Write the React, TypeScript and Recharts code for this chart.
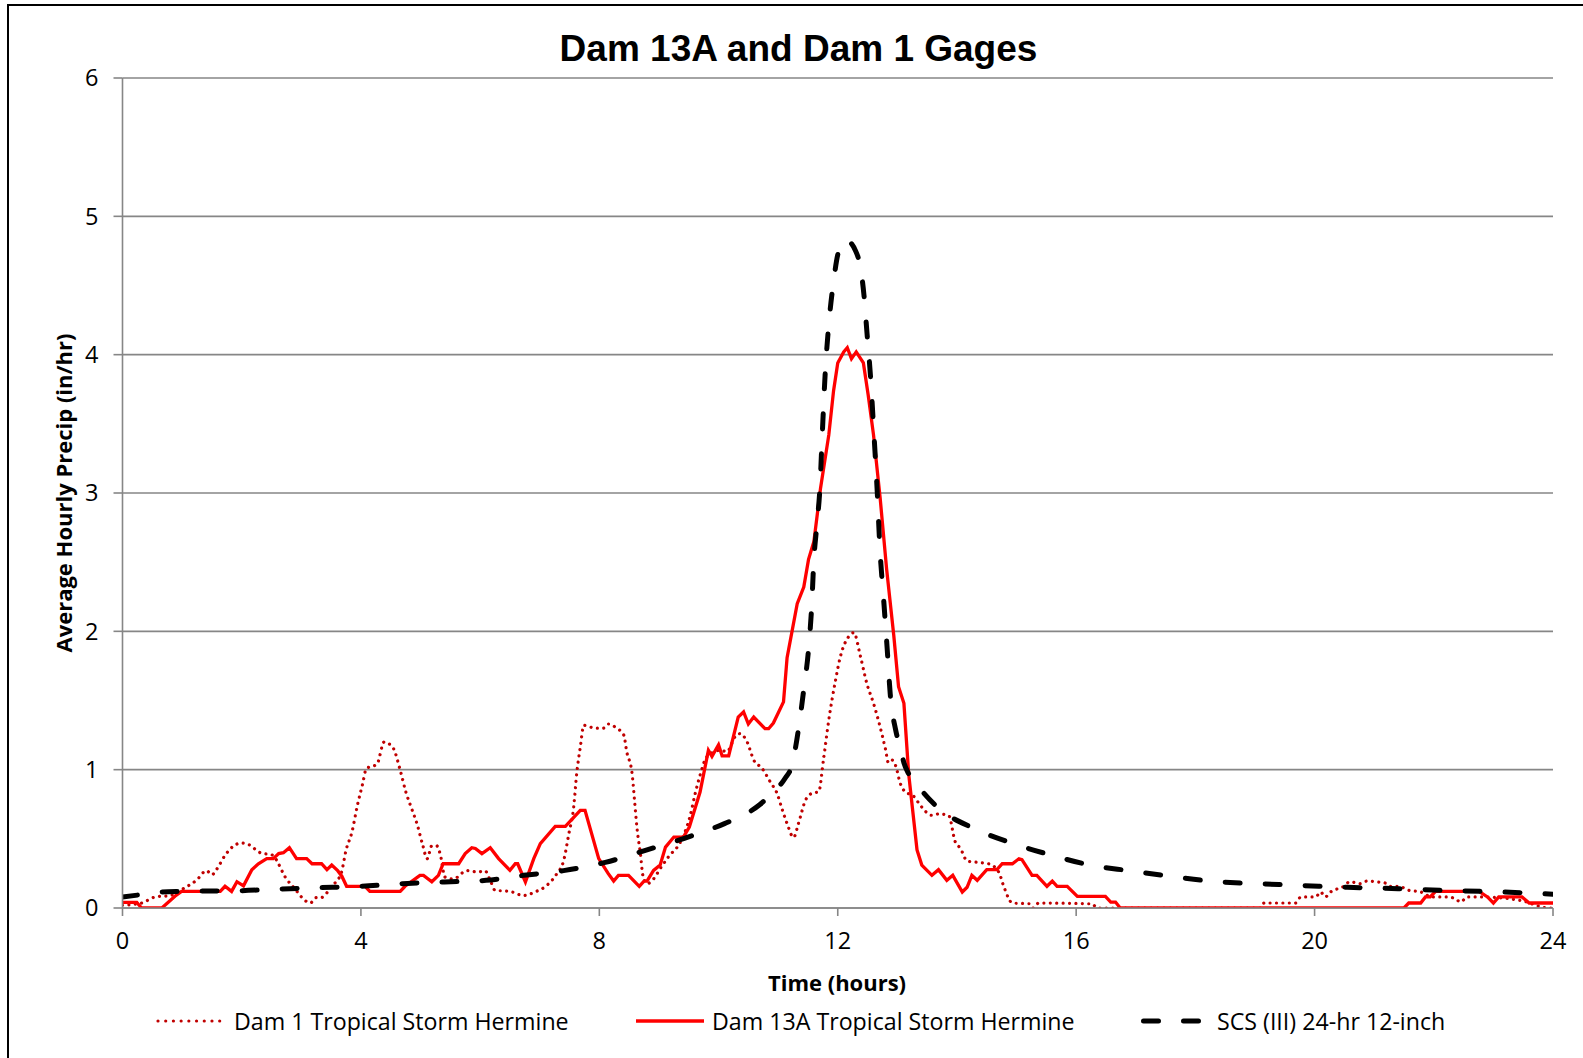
import React from 'react';
import { LineChart, Line, XAxis, YAxis, CartesianGrid } from 'recharts';

const chartTitle = 'Dam 13A and Dam 1 Gages';
const xAxisTitle = 'Time (hours)';
const yAxisTitle = 'Average Hourly Precip (in/hr)';
const seriesNames = ['Dam 1 Tropical Storm Hermine', 'Dam 13A Tropical Storm Hermine', 'SCS (III) 24-hr 12-inch'];
const xTicks = [0, 4, 8, 12, 16, 20, 24];
const yTicks = [0, 1, 2, 3, 4, 5, 6];

// [hour, in/hr]
const dam1Points: [number, number][] = [
  [0, 0.02], [0.32, 0.036], [0.55, 0.08], [0.8, 0.09], [1.02, 0.14], [1.24, 0.2], [1.41, 0.27], [1.5, 0.24],
  [1.58, 0.28], [1.72, 0.38], [1.87, 0.45], [2.0, 0.47], [2.11, 0.46], [2.31, 0.4], [2.53, 0.38], [2.61, 0.325],
  [2.73, 0.224], [2.89, 0.14], [3.06, 0.055], [3.15, 0.036], [3.25, 0.075], [3.33, 0.075], [3.51, 0.157],
  [3.67, 0.253], [3.75, 0.417], [3.85, 0.55], [3.94, 0.74], [4.03, 0.9], [4.09, 1.007], [4.27, 1.04], [4.39, 1.2],
  [4.46, 1.19], [4.55, 1.15], [4.66, 0.995], [4.76, 0.83], [4.85, 0.72], [4.94, 0.61], [5.04, 0.45], [5.11, 0.356],
  [5.19, 0.45], [5.27, 0.45], [5.33, 0.39], [5.41, 0.224], [5.55, 0.21], [5.78, 0.27], [5.97, 0.26], [6.08, 0.27],
  [6.17, 0.2], [6.25, 0.128], [6.5, 0.12], [6.73, 0.09], [6.92, 0.116], [7.12, 0.164], [7.29, 0.25], [7.4, 0.34],
  [7.49, 0.54], [7.57, 0.73], [7.62, 0.97], [7.68, 1.16], [7.74, 1.32], [7.93, 1.3], [8.07, 1.3], [8.15, 1.33],
  [8.29, 1.3], [8.41, 1.25], [8.46, 1.13], [8.55, 0.97], [8.59, 0.78], [8.63, 0.585], [8.69, 0.39], [8.73, 0.236],
  [8.8, 0.176], [8.91, 0.21], [9.02, 0.284], [9.16, 0.37], [9.36, 0.477], [9.52, 0.66], [9.61, 0.83], [9.69, 0.96],
  [9.8, 1.09], [10.03, 1.14], [10.14, 1.13], [10.28, 1.24], [10.36, 1.26], [10.48, 1.2], [10.59, 1.07], [10.73, 1.01],
  [10.87, 0.91], [10.98, 0.83], [11.07, 0.71], [11.15, 0.61], [11.26, 0.51], [11.34, 0.61], [11.46, 0.78],
  [11.57, 0.83], [11.68, 0.84], [11.76, 1.07], [11.85, 1.36], [11.96, 1.64], [12.04, 1.81], [12.18, 1.96],
  [12.27, 1.99], [12.38, 1.82], [12.49, 1.62], [12.6, 1.48], [12.71, 1.31], [12.8, 1.15], [12.85, 1.05],
  [12.91, 1.07], [12.97, 1.03], [13.05, 0.9], [13.13, 0.84], [13.27, 0.81], [13.39, 0.74], [13.58, 0.67],
  [13.69, 0.68], [13.86, 0.67], [13.97, 0.48], [14.06, 0.43], [14.17, 0.34], [14.34, 0.33], [14.53, 0.32],
  [14.7, 0.26], [14.79, 0.15], [14.93, 0.036], [15.23, 0.03], [15.28, 0], [15.37, 0.036], [16.27, 0.03],
  [16.35, 0], [19.1, 0], [19.15, 0.036], [19.68, 0.036], [19.77, 0.08], [20.02, 0.08], [20.1, 0.116],
  [20.18, 0.08], [20.27, 0.116], [20.49, 0.157], [20.59, 0.19], [20.77, 0.176], [20.88, 0.195], [21.02, 0.19],
  [21.19, 0.18], [21.27, 0.157], [21.41, 0.157], [21.58, 0.128], [21.78, 0.116], [21.97, 0.08], [22.23, 0.08],
  [22.36, 0.067], [22.45, 0.043], [22.56, 0.08], [22.78, 0.08], [23.45, 0.055], [23.93, 0], [24, 0],
];

const dam13aPoints: [number, number][] = [
  [0, 0.04], [0.24, 0.04], [0.32, 0], [0.66, 0], [0.88, 0.085], [0.99, 0.12], [1.64, 0.12], [1.72, 0.157],
  [1.83, 0.12], [1.92, 0.19], [2.03, 0.16], [2.17, 0.277], [2.28, 0.32], [2.42, 0.357], [2.53, 0.357], [2.62, 0.393],
  [2.7, 0.4], [2.8, 0.436], [2.92, 0.357], [3.09, 0.357], [3.18, 0.32], [3.34, 0.32], [3.43, 0.277], [3.51, 0.31],
  [3.61, 0.27], [3.68, 0.23], [3.76, 0.157], [4.07, 0.157], [4.15, 0.12], [4.66, 0.12], [4.74, 0.157], [4.99, 0.236],
  [5.05, 0.236], [5.19, 0.19], [5.3, 0.236], [5.38, 0.32], [5.64, 0.32], [5.75, 0.393], [5.86, 0.436], [5.92, 0.43],
  [6.03, 0.393], [6.17, 0.436], [6.31, 0.357], [6.5, 0.272], [6.59, 0.32], [6.63, 0.32], [6.76, 0.188], [6.9, 0.357],
  [7.01, 0.465], [7.26, 0.59], [7.43, 0.59], [7.68, 0.706], [7.76, 0.706], [7.99, 0.357], [8.15, 0.248], [8.24, 0.195],
  [8.32, 0.236], [8.49, 0.236], [8.67, 0.157], [8.75, 0.195], [8.8, 0.195], [8.91, 0.272], [9.02, 0.31], [9.11, 0.44],
  [9.25, 0.513], [9.41, 0.513], [9.51, 0.585], [9.69, 0.838], [9.83, 1.14], [9.89, 1.096], [10.0, 1.18], [10.06, 1.1],
  [10.17, 1.1], [10.33, 1.38], [10.42, 1.417], [10.5, 1.33], [10.59, 1.38], [10.78, 1.296], [10.84, 1.296],
  [10.92, 1.337], [11.09, 1.49], [11.15, 1.81], [11.32, 2.2], [11.43, 2.32], [11.51, 2.52], [11.6, 2.65],
  [11.71, 3.03], [11.85, 3.42], [11.93, 3.74], [12.0, 3.94], [12.1, 4.02], [12.16, 4.05], [12.23, 3.97],
  [12.31, 4.02], [12.43, 3.94], [12.51, 3.71], [12.6, 3.42], [12.71, 2.97], [12.82, 2.45], [12.94, 1.97],
  [13.02, 1.6], [13.11, 1.48], [13.19, 0.97], [13.33, 0.42], [13.41, 0.31], [13.58, 0.236], [13.69, 0.277],
  [13.83, 0.2], [13.93, 0.236], [14.09, 0.116], [14.17, 0.15], [14.25, 0.236], [14.34, 0.2], [14.5, 0.277],
  [14.67, 0.277], [14.76, 0.32], [14.93, 0.32], [15.04, 0.356], [15.09, 0.35], [15.26, 0.236], [15.34, 0.236],
  [15.51, 0.157], [15.6, 0.195], [15.68, 0.157], [15.85, 0.157], [16.02, 0.084], [16.49, 0.084], [16.58, 0.043],
  [16.66, 0.043], [16.74, 0], [21.5, 0], [21.58, 0.036], [21.78, 0.036], [21.86, 0.08], [21.94, 0.08], [22.03, 0.12],
  [22.76, 0.12], [22.9, 0.08], [23.0, 0.036], [23.09, 0.08], [23.48, 0.08], [23.6, 0.036], [24, 0.036],
];

const scsPoints: [number, number][] = [
  [0, 0.08], [0.3, 0.096], [0.6, 0.115], [1.0, 0.12], [2.0, 0.125], [2.5, 0.135], [3.3, 0.147], [4.0, 0.157],
  [4.7, 0.176], [5.4, 0.188], [6.1, 0.2], [6.73, 0.236], [7.4, 0.27], [8.1, 0.33], [8.8, 0.42], [9.4, 0.5],
  [10.1, 0.61], [10.5, 0.69], [10.7, 0.75], [10.92, 0.84], [11.12, 0.94], [11.23, 1.03], [11.34, 1.29],
  [11.43, 1.58], [11.51, 1.87], [11.56, 2.16], [11.6, 2.52], [11.65, 2.77], [11.7, 3.03], [11.74, 3.42],
  [11.79, 3.87], [11.85, 4.22], [11.93, 4.53], [12.01, 4.74], [12.13, 4.83], [12.3, 4.75], [12.38, 4.63],
  [12.44, 4.43], [12.49, 4.16], [12.55, 3.84], [12.6, 3.48], [12.66, 3.03], [12.71, 2.58], [12.77, 2.23],
  [12.83, 1.87], [12.88, 1.55], [12.97, 1.29], [13.05, 1.16], [13.11, 1.05], [13.19, 0.97], [13.33, 0.89],
  [13.67, 0.73], [14.31, 0.57], [14.95, 0.465], [15.6, 0.38], [16.24, 0.31], [16.88, 0.27], [17.58, 0.23],
  [18.23, 0.195], [18.76, 0.18], [19.4, 0.17], [20.07, 0.157], [20.77, 0.147], [21.4, 0.14], [22.1, 0.128],
  [22.8, 0.12], [23.5, 0.11], [24, 0.1],
];

const toRows = (pts: [number, number][]) => pts.map(([h, v]) => ({ h, v }));
const dam1Data = toRows(dam1Points);
const dam13aData = toRows(dam13aPoints);
const scsData = toRows(scsPoints);

const TEXT_FONT = '"Open Sans", Lato, sans-serif';
const GRID = '#868686';

const DOT_STYLE = { stroke: '#C00000', strokeWidth: 3.2, strokeDasharray: '0.01 6.4', strokeLinecap: 'round' as const };
const SOLID_STYLE = { stroke: '#FF0000', strokeWidth: 3.3 };
const DASH_STYLE = { stroke: '#000000', strokeWidth: 5, strokeDasharray: '15 25', strokeLinecap: 'round' as const };

export default function App() {
  const legendItems = [
    { name: seriesNames[0], style: { ...DOT_STYLE, strokeDasharray: '0.01 7.7' }, x1: 158, x2: 221, textLeft: 234 },
    { name: seriesNames[1], style: SOLID_STYLE, x1: 636, x2: 704, textLeft: 712 },
    { name: seriesNames[2], style: { ...DASH_STYLE, strokeDasharray: '15 25' }, x1: 1143.5, x2: 1199, textLeft: 1217 },
  ];
  return (
    <div style={{ position: 'absolute', left: 0, top: 0, width: 1583, height: 1058, background: '#fff', overflow: 'hidden' }}>
      <div style={{ position: 'absolute', left: 7, top: 4, width: 1600, height: 1100, borderLeft: '2px solid #000', borderTop: '2px solid #000' }} />
      <LineChart width={1583} height={1058} margin={{ top: 78, right: 30, bottom: 0, left: 0 }} style={{ position: 'absolute', left: 0, top: 0 }}>
        <CartesianGrid vertical={false} stroke={GRID} strokeWidth={1.6} />
        <XAxis
          type="number"
          dataKey="h"
          domain={[0, 24]}
          ticks={xTicks}
          interval={0}
          height={150}
          tickSize={8}
          tickMargin={16.5}
          axisLine={{ stroke: GRID, strokeWidth: 1.6 }}
          tickLine={{ stroke: GRID, strokeWidth: 1.6 }}
          tick={{ fill: '#000', fontSize: 23.5, fontFamily: TEXT_FONT }}
          allowDataOverflow
        />
        <YAxis
          type="number"
          domain={[0, 6]}
          ticks={yTicks}
          interval={0}
          width={122.5}
          tickSize={9}
          tickMargin={15}
          axisLine={{ stroke: GRID, strokeWidth: 1.6 }}
          tickLine={{ stroke: GRID, strokeWidth: 1.6 }}
          tick={{ fill: '#000', fontSize: 23.5, fontFamily: TEXT_FONT }}
          allowDataOverflow
        />
        <Line data={dam1Data} dataKey="v" type="monotone" dot={false} activeDot={false} isAnimationActive={false} {...DOT_STYLE} />
        <Line data={dam13aData} dataKey="v" type="linear" dot={false} activeDot={false} isAnimationActive={false} {...SOLID_STYLE} />
        <Line data={scsData} dataKey="v" type="monotone" dot={false} activeDot={false} isAnimationActive={false} {...DASH_STYLE} />
      </LineChart>
      <div style={{ position: 'absolute', left: 798.5, top: 48.5, transform: 'translate(-50%,-50%)', whiteSpace: 'nowrap', fontFamily: '"Liberation Sans", Arial, sans-serif', fontWeight: 700, fontSize: 37, color: '#000' }}>
        {chartTitle}
      </div>
      <div style={{ position: 'absolute', left: 837, top: 982, transform: 'translate(-50%,-50%)', whiteSpace: 'nowrap', fontFamily: TEXT_FONT, fontWeight: 700, fontSize: 22, color: '#000' }}>
        {xAxisTitle}
      </div>
      <div style={{ position: 'absolute', left: 62.6, top: 492.7, transform: 'translate(-50%,-50%) rotate(-90deg)', whiteSpace: 'nowrap', fontFamily: TEXT_FONT, fontWeight: 700, fontSize: 22, color: '#000' }}>
        {yAxisTitle}
      </div>
      <svg width={1583} height={60} style={{ position: 'absolute', left: 0, top: 990 }}>
        {legendItems.map((it) => (
          <line key={it.name} x1={it.x1} y1={31} x2={it.x2} y2={31} {...it.style} />
        ))}
      </svg>
      {legendItems.map((it) => (
        <div key={it.name} style={{ position: 'absolute', left: it.textLeft, top: 1020.5, transform: 'translateY(-50%)', whiteSpace: 'nowrap', fontFamily: TEXT_FONT, fontSize: 23.2, color: '#000' }}>
          {it.name}
        </div>
      ))}
    </div>
  );
}
